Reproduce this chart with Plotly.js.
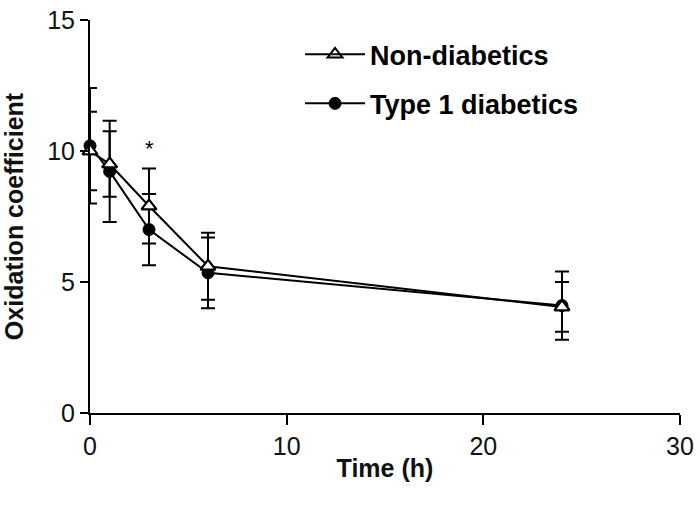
<!DOCTYPE html>
<html>
<head>
<meta charset="utf-8">
<script src="https://cdn.plot.ly/plotly-3.0.1.min.js"></script>
<style>html,body{margin:0;padding:0;background:#fff}#chart{width:700px;height:512px}</style>
</head>
<body>
<div id="chart"></div>
<script>
var time = [0, 1, 3, 6, 24];
var nonDiabetics = [10.0, 9.5, 7.9, 5.6, 4.05];
var nonDiabeticsSD = [1.5, 1.25, 1.43, 1.28, 0.95];
var type1Diabetics = [10.2, 9.22, 7.0, 5.35, 4.1];
var type1DiabeticsSD = [2.2, 1.93, 1.36, 1.35, 1.3];
var seriesNames = ["Non-diabetics", "Type 1 diabetics"];
var xTicks = [0, 10, 20, 30];
var yTicks = [0, 5, 10, 15];
var significance = [{x: 3, y: 10.1, text: "*"}];

var font = "Liberation Sans, Arial, sans-serif";

var traces = [
  {
    x: time, y: type1Diabetics, name: seriesNames[1], legendgroup: "b", legendrank: 2,
    type: "scatter", mode: "lines+markers",
    line: {color: "#000", width: 2},
    marker: {symbol: "circle", size: 12, color: "#000", line: {color: "#000", width: 1}},
    error_y: {type: "data", array: type1DiabeticsSD, visible: true, color: "#000", thickness: 2, width: 7},
    cliponaxis: false
  },
  {
    x: time, y: nonDiabetics, name: seriesNames[0], legendgroup: "a", legendrank: 1,
    type: "scatter", mode: "lines+markers",
    line: {color: "#000", width: 2},
    marker: {symbol: "triangle-up-open", size: 13, color: "#000", line: {color: "#000", width: 2}},
    error_y: {type: "data", array: nonDiabeticsSD, visible: true, color: "#000", thickness: 2, width: 7},
    cliponaxis: false
  }
];
// white fill under open triangles
traces.push({
  x: time, y: nonDiabetics, type: "scatter", mode: "markers", showlegend: false, hoverinfo: "skip",
  marker: {symbol: "triangle-up", size: 13, color: "#fff", line: {color: "#000", width: 2}},
  cliponaxis: false
});

var layout = {
  width: 700, height: 512,
  margin: {l: 90, r: 20, t: 20, b: 99},
  paper_bgcolor: "#fff", plot_bgcolor: "#fff",
  font: {family: font, color: "#111", size: 25},
  showlegend: true,
  legend: {
    x: 0.356, y: 0.974, xanchor: "left", yanchor: "top",
    traceorder: "grouped",
    font: {family: font, size: 27, color: "#000", weight: "bold"},
    bgcolor: "rgba(0,0,0,0)", itemwidth: 60, tracegroupgap: 11
  },
  xaxis: {
    range: [0, 30], tickvals: xTicks, ticktext: xTicks.map(String),
    showgrid: false, zeroline: false, showline: true, linecolor: "#000", linewidth: 2,
    ticks: "outside", ticklen: 10, tickwidth: 2, tickcolor: "#000",
    tickfont: {family: font, size: 25, color: "#111"},
    title: {text: "<b>Time (h)</b>", font: {family: font, size: 25, color: "#111"}, standoff: 0}
  },
  yaxis: {
    range: [0, 15], tickvals: yTicks, ticktext: yTicks.map(String),
    showgrid: false, zeroline: false, showline: true, linecolor: "#000", linewidth: 2,
    ticks: "outside", ticklen: 8, tickwidth: 2, tickcolor: "#000",
    tickfont: {family: font, size: 25, color: "#111"},
    title: {text: "<b>Oxidation coefficient</b>", font: {family: font, size: 25, color: "#111"}, standoff: 25}
  },
  annotations: significance.map(function (s) {
    return {x: s.x, y: s.y, xref: "x", yref: "y", text: s.text, showarrow: false,
            font: {family: font, size: 22, color: "#000"}};
  })
};

Plotly.newPlot("chart", traces, layout, {displayModeBar: false, staticPlot: true});
</script>
</body>
</html>
